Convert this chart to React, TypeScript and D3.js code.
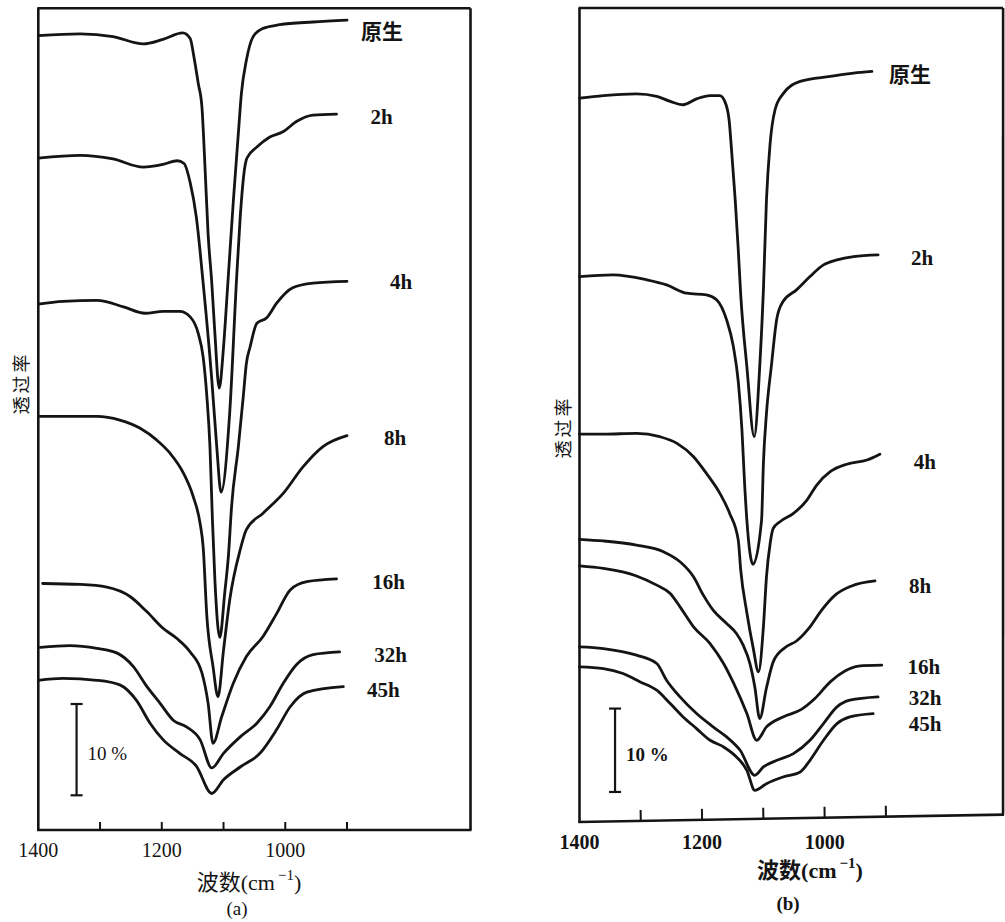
import React from "react";
import * as d3 from "d3";

type Pt = [number, number]; // [wavenumber cm^-1, transmittance %]

const seriesLabels = ["原生", "2h", "4h", "8h", "16h", "32h", "45h"];
const xTickValues = [1300, 1200, 1100, 1000, 900];
const xTickLabels = [1400, 1200, 1000];
const scaleBarValue = 10;

// ---------- panel (a) ----------
const a0: Pt[] = [[1400,87.0],[1332,87.2],[1279,86.9],[1230,86.1],[1198,86.6],[1166,87.3],[1154,86.7],[1148,84.7],[1141,81.8],[1135,79.2],[1130,72.6],[1125,65.3],[1119,59.9],[1114,54.4],[1107,48.4],[1100,52.9],[1093,59.9],[1084,69.0],[1076,76.3],[1071,80.7],[1063,84.3],[1052,86.9],[1036,87.8],[1009,88.2],[955,88.5],[900,88.7]];
const a2: Pt[] = [[1400,73.6],[1332,73.9],[1279,73.5],[1230,72.6],[1198,72.9],[1175,73.3],[1164,73.0],[1154,70.9],[1144,67.1],[1133,59.9],[1119,49.3],[1111,42.0],[1104,37.0],[1090,45.7],[1079,60.2],[1073,67.1],[1066,72.4],[1062,73.6],[1046,74.8],[1025,75.9],[1003,76.5],[982,77.6],[955,78.3],[917,78.4]];
const a4: Pt[] = [[1400,57.6],[1360,57.9],[1305,58.0],[1262,57.3],[1227,56.6],[1198,56.8],[1171,56.8],[1154,56.2],[1141,54.4],[1133,51.8],[1127,47.5],[1122,42.0],[1118,34.0],[1114,27.4],[1106,21.1],[1098,26.0],[1092,30.1],[1087,35.4],[1076,42.0],[1068,47.5],[1063,51.1],[1057,52.9],[1046,55.5],[1030,56.1],[1014,57.7],[988,59.4],[955,59.9],[900,60.1]];
const a8: Pt[] = [[1400,45.3],[1305,45.3],[1268,44.9],[1235,44.0],[1208,42.7],[1187,41.3],[1165,39.1],[1149,36.5],[1138,33.6],[1133,31.0],[1127,23.4],[1117,17.9],[1109,14.6],[1100,19.7],[1090,25.2],[1073,30.7],[1063,32.9],[1036,34.7],[1003,36.9],[971,39.8],[939,42.0],[900,43.2]];
const a16: Pt[] = [[1393,27.0],[1332,26.9],[1289,26.6],[1252,25.6],[1224,23.9],[1198,22.1],[1176,21.0],[1154,19.5],[1135,17.2],[1125,13.9],[1117,9.5],[1103,12.4],[1084,16.1],[1063,19.0],[1036,21.2],[1014,23.7],[992,26.3],[965,27.2],[917,27.5]];
const a32: Pt[] = [[1397,20.0],[1349,20.2],[1305,19.9],[1273,19.4],[1246,17.9],[1224,15.7],[1203,13.9],[1181,12.0],[1160,11.3],[1138,9.9],[1119,6.8],[1100,8.4],[1073,10.2],[1046,11.7],[1025,13.5],[1003,16.1],[982,18.1],[955,19.2],[912,19.5]];
const a45: Pt[] = [[1400,16.4],[1360,16.6],[1305,16.4],[1268,15.9],[1241,14.2],[1219,11.7],[1198,9.9],[1171,8.4],[1144,7.0],[1119,4.0],[1100,5.5],[1073,6.9],[1041,8.4],[1014,11.0],[992,13.5],[965,15.1],[906,15.7]];

// ---------- panel (b) ----------
const b0: Pt[] = [[1400,86.8],[1361,87.1],[1307,87.3],[1274,87.0],[1252,86.4],[1231,86.0],[1209,86.7],[1187,87.1],[1171,87.1],[1163,86.4],[1156,84.2],[1152,80.6],[1146,74.6],[1141,68.6],[1137,63.2],[1127,54.6],[1115,46.2],[1106,54.6],[1100,63.8],[1095,74.6],[1089,81.4],[1081,85.4],[1068,87.3],[1040,88.8],[991,89.4],[953,89.8],[923,90.0]];
const b2: Pt[] = [[1400,65.4],[1345,65.6],[1290,65.0],[1258,64.4],[1225,63.4],[1193,63.2],[1176,62.6],[1160,60.2],[1149,57.0],[1141,52.8],[1135,47.0],[1131,41.0],[1127,36.2],[1117,30.9],[1103,36.2],[1100,43.0],[1095,49.0],[1087,54.7],[1078,60.4],[1068,62.4],[1046,63.8],[1024,65.4],[1002,66.8],[980,67.4],[953,67.8],[913,68.0]];
const b4: Pt[] = [[1400,46.5],[1361,46.5],[1307,46.6],[1269,46.2],[1241,45.4],[1214,43.8],[1193,41.8],[1171,39.4],[1155,37.0],[1141,33.8],[1137,30.2],[1127,25.1],[1117,21.0],[1108,18.0],[1100,23.4],[1095,29.4],[1089,33.4],[1084,35.2],[1073,36.0],[1051,37.0],[1029,38.6],[1013,40.4],[991,42.0],[964,42.9],[931,43.4],[910,44.1]];
const b8: Pt[] = [[1400,33.9],[1361,33.7],[1307,33.2],[1263,32.4],[1236,31.2],[1214,29.4],[1198,27.2],[1182,25.4],[1160,23.8],[1144,22.6],[1133,21.2],[1122,19.0],[1114,16.2],[1106,12.4],[1095,16.1],[1084,19.2],[1065,20.9],[1046,21.7],[1024,23.4],[1005,25.4],[983,27.2],[956,28.3],[918,28.9]];
const b16: Pt[] = [[1400,30.7],[1361,30.4],[1307,29.5],[1274,28.4],[1252,27.4],[1236,25.8],[1214,23.4],[1187,21.4],[1165,19.0],[1149,16.7],[1127,13.0],[1111,9.8],[1095,11.4],[1068,12.6],[1038,13.5],[1016,14.8],[991,16.8],[967,18.1],[945,18.7],[907,18.8]];
const b32: Pt[] = [[1400,21.0],[1361,20.8],[1307,20.0],[1274,19.0],[1258,17.0],[1236,15.0],[1209,13.0],[1182,11.4],[1160,10.2],[1138,8.6],[1114,5.6],[1100,6.6],[1078,7.4],[1051,8.2],[1024,9.8],[1002,11.8],[980,13.8],[959,14.6],[913,15.0]];
const b45: Pt[] = [[1400,18.6],[1361,18.4],[1329,17.8],[1301,16.8],[1274,15.8],[1252,14.2],[1231,12.6],[1209,11.2],[1187,9.8],[1165,9.0],[1144,7.8],[1127,6.2],[1114,3.8],[1095,4.6],[1068,5.4],[1040,6.0],[1024,7.4],[1002,9.8],[980,11.8],[959,12.6],[921,13.0]];

const seriesA = [a0, a2, a4, a8, a16, a32, a45];
const seriesB = [b0, b2, b4, b8, b16, b32, b45];

const FONT_MIX = "'Liberation Serif', 'Noto Sans CJK SC', serif";
const FONT_CJK = "'Noto Sans CJK SC', sans-serif";
const INK = "#141414";

type Cfg = {
  series: Pt[][];
  xDomain: [number, number];
  xRange: [number, number];
  yDomain: [number, number];
  yRange: [number, number];
  labelOff: [number, number][];
  bold: boolean;
  barWn: number;
  barBase: number;
  tilt: number;
  tickLen: number;
  xTitle: [number, number];
  letter: string;
  letterPos: [number, number];
  yTitle: [number, number];
};

const cfgA: Cfg = {
  series: seriesA,
  xDomain: [1400, 700],
  xRange: [38.3, 470.5],
  yDomain: [0, 90],
  yRange: [830, 8.3],
  labelOff: [[35, 12], [45, 3], [54, 1], [48, 2], [52, 3], [51, 3], [40, 3]],
  bold: false,
  barWn: 1338,
  barBase: 3.8,
  tilt: 0,
  tickLen: 8,
  xTitle: [249, 882],
  letter: "(a)",
  letterPos: [237, 908],
  yTitle: [20, 383],
};

const cfgB: Cfg = {
  series: seriesB,
  xDomain: [1400, 709],
  xRange: [579.5, 1003.1],
  yDomain: [0, 97.6],
  yRange: [822, 8],
  labelOff: [[38, 4], [44, 3], [45, 8], [45, 5], [42, 2], [47, 1], [52, 10]],
  bold: true,
  barWn: 1342,
  barBase: 3.6,
  tilt: 1.0,
  tickLen: 11,
  xTitle: [810, 870],
  letter: "(b)",
  letterPos: [788, 903],
  yTitle: [562, 427],
};

function Panel({ c }: { c: Cfg }) {
  const x = d3.scaleLinear().domain(c.xDomain).range(c.xRange);
  const y = d3.scaleLinear().domain(c.yDomain).range(c.yRange);
  const line = d3
    .line<Pt>()
    .x((d) => x(d[0]))
    .y((d) => y(d[1]))
    .curve(d3.curveMonotoneX);
  const [x0, x1] = c.xRange;
  const [yb, yt] = c.yRange;
  const L = x1 - x0;
  const rad = (c.tilt * Math.PI) / 180;
  const brX = x0 + L * Math.cos(rad);
  const brY = yb - L * Math.sin(rad);
  const wt = c.bold ? "bold" : "normal";
  const barX = x(c.barWn);
  const barY0 = y(c.barBase);
  const barY1 = y(c.barBase + scaleBarValue);
  return (
    <g>
      {/* frame */}
      <line x1={x0} y1={yt} x2={x0} y2={yb + 1} stroke={INK} strokeWidth={2.6} />
      <line x1={x0 - 1} y1={yt} x2={x1} y2={yt} stroke={INK} strokeWidth={2.6} />
      <line x1={x1} y1={yt} x2={brX} y2={brY} stroke={INK} strokeWidth={2.6} />
      <g transform={`rotate(${-c.tilt} ${x0} ${yb})`}>
        <line x1={x0 - 1} y1={yb} x2={x1 + 1} y2={yb} stroke={INK} strokeWidth={2.6} />
        {xTickValues.map((v) => (
          <line key={v} x1={x(v)} x2={x(v)} y1={yb} y2={yb - c.tickLen} stroke={INK} strokeWidth={2} />
        ))}
      </g>
      {xTickLabels.map((v) => (
        <text
          key={v}
          x={x(v)}
          y={yb + 20}
          textAnchor="middle"
          dominantBaseline="central"
          fontFamily={FONT_MIX}
          fontSize={20}
          fontWeight={wt}
          fill={INK}
        >
          {v}
        </text>
      ))}
      {/* curves */}
      {c.series.map((s, i) => (
        <path
          key={i}
          d={line(s) || ""}
          fill="none"
          stroke={INK}
          strokeWidth={2.8}
          strokeLinejoin="round"
          strokeLinecap="round"
        />
      ))}
      {/* curve labels */}
      {c.series.map((s, i) => {
        const e = s[s.length - 1];
        return (
          <text
            key={"l" + i}
            x={x(e[0]) + c.labelOff[i][0]}
            y={y(e[1]) + c.labelOff[i][1]}
            textAnchor="middle"
            dominantBaseline="central"
            fontFamily={FONT_MIX}
            fontSize={21}
            fontWeight="bold"
            fill={INK}
          >
            {seriesLabels[i]}
          </text>
        );
      })}
      {/* 10% scale bar */}
      <line x1={barX} x2={barX} y1={barY0} y2={barY1} stroke={INK} strokeWidth={2.2} />
      <line x1={barX - 6} x2={barX + 6} y1={barY0} y2={barY0} stroke={INK} strokeWidth={2.2} />
      <line x1={barX - 6} x2={barX + 6} y1={barY1} y2={barY1} stroke={INK} strokeWidth={2.2} />
      <text
        x={barX + 11}
        y={(barY0 + barY1) / 2 + 4}
        dominantBaseline="central"
        fontFamily={FONT_MIX}
        fontSize={19}
        fontWeight={wt}
        fill={INK}
      >
        {`${scaleBarValue} %`}
      </text>
      {/* axis titles */}
      <text
        x={c.xTitle[0]}
        y={c.xTitle[1]}
        textAnchor="middle"
        dominantBaseline="central"
        fontFamily={FONT_MIX}
        fontSize={22}
        fontWeight={wt}
        fill={INK}
      >
        波数(cm
        <tspan fontSize={15} dy={-7} dx={3}>−1</tspan>
        <tspan dy={7}>)</tspan>
      </text>
      <text
        x={c.letterPos[0]}
        y={c.letterPos[1]}
        textAnchor="middle"
        dominantBaseline="central"
        fontFamily={FONT_MIX}
        fontSize={19}
        fontWeight={wt}
        fill={INK}
      >
        {c.letter}
      </text>
      <text
        transform={`translate(${c.yTitle[0]},${c.yTitle[1]}) rotate(-90)`}
        textAnchor="middle"
        dominantBaseline="central"
        fontFamily={FONT_CJK}
        fontSize={18}
        letterSpacing={3}
        fill={INK}
      >
        透过率
      </text>
    </g>
  );
}

export default function App() {
  return (
    <svg
      width={1005}
      height={922}
      viewBox="0 0 1005 922"
      style={{ position: "absolute", left: 0, top: 0, background: "#fff", display: "block" }}
    >
      <rect x={0} y={0} width={1005} height={922} fill="#fff" />
      <Panel c={cfgA} />
      <Panel c={cfgB} />
    </svg>
  );
}
